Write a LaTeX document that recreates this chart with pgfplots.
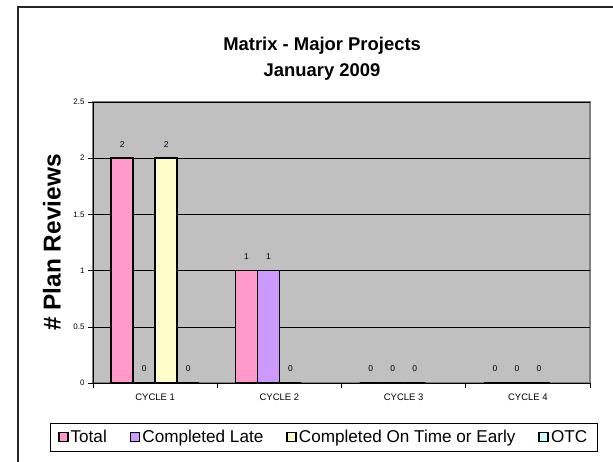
\documentclass[border=0pt]{standalone}
\usepackage{fontspec}
\setmainfont{Liberation Sans}
\usepackage{pgfplots}
\pgfplotsset{compat=1.18}

\definecolor{cTotal}{HTML}{FF99CC}
\definecolor{cLate}{HTML}{CC99FF}
\definecolor{cOnTime}{HTML}{FFFFCC}
\definecolor{cOTC}{HTML}{CCFFFF}
\definecolor{plotbg}{HTML}{C0C0C0}
\definecolor{frame}{HTML}{808080}

\pgfplotsset{
  sq/.style={draw=black, line width=1.6bp, fill=#1,
    legend image code/.code={\draw[fill=#1, draw=black, line width=1.6bp] (0bp,-4.5bp) rectangle (9bp,4.5bp);}},
}

\begin{document}
\begin{tikzpicture}
\path[use as bounding box] (0,0) rectangle (613bp,-462bp);
% chart area frame (cut off at right and bottom)
\draw[line width=1.5bp, black!85] (18bp,-462bp) -- (18bp,-7bp) -- (613bp,-7bp);

\begin{axis}[
  at={(93bp,-383bp)}, anchor=south west,
  scale only axis, width=497bp, height=281bp,
  ybar=0pt, bar width=0.177,
  xmin=0.5, xmax=4.5, ymin=0, ymax=2.5,
  xtick={1,2,3,4},
  xticklabels={CYCLE 1,CYCLE 2,CYCLE 3,CYCLE 4},
  minor xtick={0.5,1.5,2.5,3.5,4.5},
  ytick={0,0.5,1,1.5,2,2.5},
  every major x tick/.append style={draw=none},
  major tick length=5bp, minor tick length=5bp,
  tick align=outside,
  tick style={black, line width=0.6bp},
  axis x line*=bottom, axis y line*=left,
  axis line style={-, black, line width=0.9bp},
  axis background/.style={fill=plotbg, draw=frame, line width=2bp},
  ymajorgrids, major grid style={black, line width=0.6bp},
  /pgf/number format/assume math mode=true,
  yticklabel style={font=\fontsize{8}{9}\selectfont},
  xticklabel style={font=\fontsize{9.5}{11}\selectfont, yshift=-2bp},
  title={Matrix - Major Projects\\January 2009},
  title style={font=\fontsize{18.5}{26}\selectfont\bfseries, align=center,
    at={(axis description cs:0.461,1)}, anchor=south, inner sep=0pt, yshift=16bp},
  ylabel={\# Plan Reviews},
  ylabel style={font=\fontsize{24.5}{28}\selectfont\bfseries,
    at={(axis description cs:-0.0825,0.5)}, anchor=center},
  nodes near coords,
  nodes near coords style={font=\fontsize{8.5}{9}\selectfont, text=black, anchor=center, yshift=14bp},
  legend columns=4,
  legend style={at={(axis description cs:0.464,-0.192)}, anchor=center,
    draw=black, line width=0.8bp, fill=white,
    font=\fontsize{17.2}{20}\selectfont,
    inner xsep=8bp, inner ysep=5bp,
    /tikz/every even column/.append style={column sep=21bp}},
]
\addplot[sq=cTotal] coordinates {(1,2) (2,1) (3,0) (4,0)};
\addlegendentry{Total}
\addplot[sq=cLate] coordinates {(1,0) (2,1) (3,0) (4,0)};
\addlegendentry{Completed Late}
\addplot[sq=cOnTime] coordinates {(1,2) (2,0) (3,0) (4,0)};
\addlegendentry{Completed On Time or Early}
\addplot[sq=cOTC] coordinates {(1,0)};
\addlegendentry{OTC}
\end{axis}
\end{tikzpicture}
\end{document}
